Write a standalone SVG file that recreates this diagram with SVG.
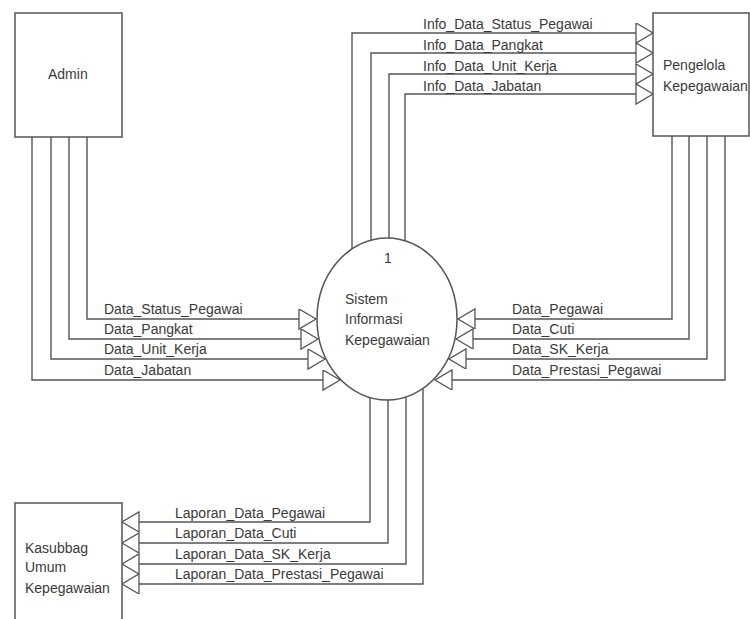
<svg xmlns="http://www.w3.org/2000/svg" width="750" height="619" viewBox="0 0 750 619">
<defs>
<style>
.box{fill:#fff;stroke:#555;stroke-width:1.5}
.t{font-family:"Liberation Sans",Arial,sans-serif;font-size:14px;fill:#3a3a3a}
.c{fill:none;stroke:#555;stroke-width:1.4;marker-end:url(#ah)}
</style>
<marker id="ah" markerUnits="userSpaceOnUse" markerWidth="20" markerHeight="22" refX="18" refY="10" orient="auto" viewBox="0 0 20 22">
<path d="M1,0 L18,10 L1,20 Z" fill="#fff" stroke="#555" stroke-width="1.3"/>
</marker>
</defs>
<rect width="750" height="619" fill="#fff"/>
<g id="connectors">
<path class="c" d="M87,137 V319 H316"/>
<path class="c" d="M69,137 V339 H318"/>
<path class="c" d="M51,137 V359 H325"/>
<path class="c" d="M32,137 V380 H340"/>
<path class="c" d="M672,136 V319 H458"/>
<path class="c" d="M689,136 V339 H456"/>
<path class="c" d="M707,136 V359 H449"/>
<path class="c" d="M725,136 V380 H435"/>
<path class="c" d="M352,249 V33 H653"/>
<path class="c" d="M371,240 V53 H653"/>
<path class="c" d="M389,238 V74 H653"/>
<path class="c" d="M405,241 V94 H653"/>
<path class="c" d="M370,398 V522 H122"/>
<path class="c" d="M388,400 V543 H122"/>
<path class="c" d="M406,398 V564 H122"/>
<path class="c" d="M423,389 V584 H122"/>
</g>
<g id="labels">
<text class="t" x="423" y="29">Info_Data_Status_Pegawai</text>
<text class="t" x="423" y="50">Info_Data_Pangkat</text>
<text class="t" x="423" y="71">Info_Data_Unit_Kerja</text>
<text class="t" x="423" y="91">Info_Data_Jabatan</text>
<text class="t" x="104" y="314">Data_Status_Pegawai</text>
<text class="t" x="104" y="334">Data_Pangkat</text>
<text class="t" x="104" y="354">Data_Unit_Kerja</text>
<text class="t" x="104" y="375">Data_Jabatan</text>
<text class="t" x="512" y="314">Data_Pegawai</text>
<text class="t" x="512" y="334">Data_Cuti</text>
<text class="t" x="512" y="354">Data_SK_Kerja</text>
<text class="t" x="512" y="375">Data_Prestasi_Pegawai</text>
<text class="t" x="175" y="518">Laporan_Data_Pegawai</text>
<text class="t" x="175" y="538">Laporan_Data_Cuti</text>
<text class="t" x="175" y="559">Laporan_Data_SK_Kerja</text>
<text class="t" x="175" y="579">Laporan_Data_Prestasi_Pegawai</text>
</g>
<g id="admin">
<rect class="box" x="15" y="13" width="107" height="124"/>
<text class="t" x="48" y="79">Admin</text>
</g>
<g id="pengelola">
<rect class="box" x="653" y="13" width="96" height="123"/>
<text class="t" x="663" y="70">Pengelola</text>
<text class="t" x="663" y="91">Kepegawaian</text>
</g>
<g id="kasubbag">
<rect class="box" x="15" y="503" width="107" height="125"/>
<text class="t" x="25" y="553">Kasubbag</text>
<text class="t" x="25" y="572">Umum</text>
<text class="t" x="25" y="593">Kepegawaian</text>
</g>
<g id="proses">
<ellipse class="box" cx="387" cy="319" rx="70" ry="81"/>
<text class="t" x="388" y="263" text-anchor="middle">1</text>
<text class="t" x="345" y="304">Sistem</text>
<text class="t" x="345" y="324">Informasi</text>
<text class="t" x="345" y="345">Kepegawaian</text>
</g>
</svg>
